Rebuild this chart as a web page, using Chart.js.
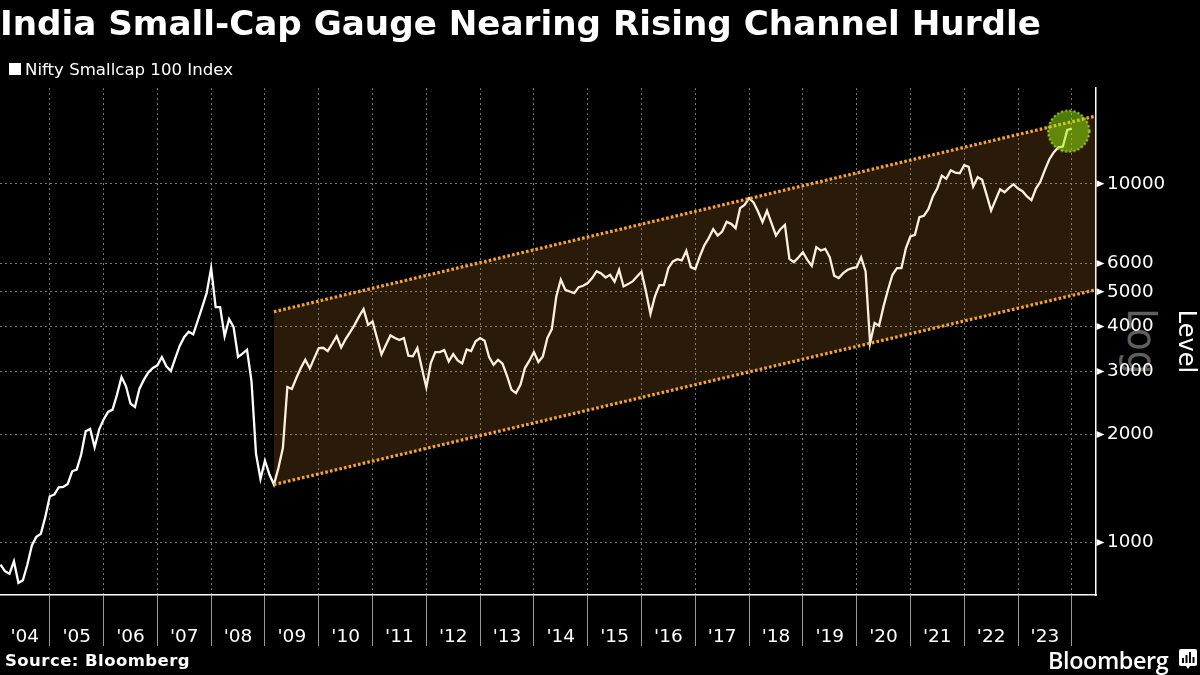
<!DOCTYPE html>
<html>
<head>
<meta charset="utf-8">
<script src="https://cdn.jsdelivr.net/npm/chart.js@4/dist/chart.umd.min.js"></script>
<style>
html,body{margin:0;padding:0;background:#000;width:1200px;height:675px;overflow:hidden}
#wrap{position:relative;width:1200px;height:675px}
canvas{position:absolute;left:0;top:0}
.t{position:absolute;color:#fff;white-space:nowrap}
#src{left:5px;top:651px;font:bold 16.5px "DejaVu Sans";letter-spacing:.45px}
#brand{left:1048px;top:644px;font:600 23.4px "Open Sans";letter-spacing:-.4px}
#legendText{left:25px;top:60px;font:16.6px "DejaVu Sans"}
#legendBox{position:absolute;left:9px;top:63px;width:12px;height:12px;background:#fff}
#logText{left:1162px;top:308px;font:40px/40px "DejaVu Sans";color:#5f5f5f;transform:rotate(90deg) scaleX(.93);transform-origin:left top}
#icon{position:absolute;left:1179px;top:649px}
</style>
</head>
<body>
<div id="wrap">
<div class="t" id="logText">Log</div>
<canvas id="c" width="1200" height="675"></canvas>
<div id="legendBox"></div>
<div class="t" id="legendText">Nifty Smallcap 100 Index</div>
<div class="t" id="src">Source: Bloomberg</div>
<div class="t" id="brand">Bloomberg</div>
<svg id="icon" width="18" height="21" viewBox="0 0 18 21"><path d="M2 0H16Q18 0 18 2V15Q18 17 16 17H11L9 20L7 17H2Q0 17 0 15V2Q0 0 2 0Z" fill="#fff"/><rect x="3" y="9" width="2" height="5" fill="#000"/><rect x="6.5" y="6" width="2" height="8" fill="#000"/><rect x="10" y="3" width="2" height="11" fill="#000"/><rect x="13.5" y="8" width="2" height="6" fill="#000"/></svg>
</div>
<script>
// Nifty Smallcap 100 month values, first point is Feb 2004
const v2004 = [868,832,818,887,772,785,868,981,1037,1057,1179];
const v2005 = [1346,1360,1426,1429,1457,1580,1597,1759,2043,2073,1843,2064];
const v2006 = [2201,2312,2347,2584,2894,2726,2439,2387,2685,2845,2982,3066];
const v2007 = [3119,3290,3099,3008,3268,3538,3741,3870,3805,4153,4535,4961];
const v2008 = [5823,4535,4535,3757,4198,3989,3290,3361,3448,2814,1770,1505];
const v2009 = [1692,1547,1451,1614,1835,2714,2679,2875,3065,3233,3058,3267];
const v2010 = [3484,3491,3418,3582,3764,3499,3692,3860,4046,4270,4476,4046];
const v2011 = [4134,3716,3346,3560,3780,3716,3668,3716,3318,3304,3484,3065];
const v2012 = [2707,3165,3396,3396,3440,3199,3353,3219,3158,3455,3418,3638];
const v2013 = [3716,3654,3289,3131,3233,3151,2917,2667,2610,2754,3065,3213];
const v2014 = [3396,3185,3304,3716,3936,4855,5403,5067,5012,4960,5153,5197];
const v2015 = [5288,5460,5710,5626,5483,5578,5333,5760,5176,5254,5345,5519];
const v2016 = [5686,5012,4343,4855,5220,5220,5821,6076,6168,6115,6506,5859];
const v2017 = [5785,6273,6734,7058,7477,7178,7366,7837,7737,7525,8554,8739];
const v2018 = [9120,8872,8375,7821,8410,7770,7178,7477,7689,6180,6051,6234];
const v2019 = [6450,6141,5908,6661,6521,6590,6247,5543,5460,5638,5760,5823];
const v2020 = [5859,6247,5699,3598,4092,4023,4554,5067,5578,5823,5823,6620];
const v2021 = [7134,7210,8076,8145,8500,9220,9725,10550,10325,10915,10752,10708];
const v2022 = [11272,11151,9829,10435,10259,9318,8429,9023,9663,9480,9745,9977];
const v2023 = [9705,9539,9220,9005,9705,10151,10940,11715,12252,12650,12706,14140];
const v2024 = [14260];
const indexValues = [].concat(v2004,v2005,v2006,v2007,v2008,v2009,v2010,v2011,v2012,v2013,v2014,v2015,v2016,v2017,v2018,v2019,v2020,v2021,v2022,v2023,v2024);

// channel end points: [months since Feb 2004, level]
const channelUpper = [[61,4400],[244.4,15465]];
const channelLower = [[61,1451],[244.4,5067]];
const highlight = [[238.3,14022]];

// year tick positions in months since Feb 2004 (each January)
const yearLabels = ["'04","'05","'06","'07","'08","'09","'10","'11","'12","'13","'14","'15","'16","'17","'18","'19","'20","'21","'22","'23"];
const yearStarts = [11,23,35,47,59,71,83,95,107,119,131,143,155,167,179,191,203,215,227,239];
const yearMids = [5.4,17,29,41,53,65,77,89,101,113,125,137,149,161,173,185,197,209,221,233];
const levelTicks = [1000,2000,3000,4000,5000,6000,10000];

const points = indexValues.map((y,i)=>({x:i,y}));
const toXY = a => a.map(p=>({x:p[0],y:p[1]}));

const ring = document.createElement('canvas');
ring.width = 44; ring.height = 44;
(function(){
  const g = ring.getContext('2d');
  g.beginPath(); g.arc(22,22,20.5,0,Math.PI*2);
  g.fillStyle = 'rgba(156,244,10,0.5)'; g.fill();
  g.setLineDash([2,2.2]); g.lineWidth = 2; g.strokeStyle = '#a5dc3c'; g.stroke();
})();

const yTriangles = {
  id:'yTriangles',
  afterDraw(chart){
    const s = chart.scales.y, g = chart.ctx;
    g.save(); g.fillStyle='#fff';
    s.ticks.forEach((t,i)=>{
      const p = s.getPixelForTick(i), l = s.left+0.5;
      g.beginPath(); g.moveTo(l,p-3.5); g.lineTo(l+8,p); g.lineTo(l,p+3.5); g.closePath(); g.fill();
    });
    g.restore();
  }
};

new Chart(document.getElementById('c'),{
  type:'line',
  plugins:[yTriangles],
  data:{datasets:[
    {label:'Nifty Smallcap 100 Index',data:points,borderColor:'#fff',backgroundColor:'#fff',borderWidth:2.3,pointRadius:0,tension:0,order:4,fill:false},
    {label:'Channel top',data:toXY(channelUpper),borderColor:'#f5a52f',borderWidth:3.2,borderDash:[2.6,2.2],pointRadius:0,backgroundColor:'rgba(255,158,60,0.165)',fill:'+1',order:2},
    {label:'Channel bottom',data:toXY(channelLower),borderColor:'#f5a52f',borderWidth:3.2,borderDash:[2.6,2.2],pointRadius:0,fill:false,order:2},
    {label:'Highlight',data:toXY(highlight),showLine:false,pointStyle:ring,pointRadius:20,order:1,fill:false}
  ]},
  options:{
    responsive:false,animation:false,
    layout:{autoPadding:false,padding:{left:0,right:0,top:0,bottom:0}},
    plugins:{
      title:{display:true,text:'India Small-Cap Gauge Nearing Rising Channel Hurdle',align:'start',color:'#fff',
        font:{family:'DejaVu Sans',size:34.2,weight:'bold'},padding:{top:5.5,bottom:41.5}},
      legend:{display:false},
      tooltip:{enabled:false}
    },
    scales:{
      x:{type:'linear',min:-0.11,max:244.4,position:'bottom',
        afterBuildTicks(s){s.ticks=yearStarts.map(v=>({value:v})).concat(yearMids.map(v=>({value:v})));},
        afterFit(s){s.height=80;},
        border:{display:true,color:'#fff',width:1.5,dash:[2,3]},
        grid:{drawTicks:true,tickLength:51,
          color:c=>yearStarts.includes(c.tick&&c.tick.value)?'#757575':'transparent',
          lineWidth:1,
          tickColor:c=>yearStarts.includes(c.tick&&c.tick.value)?'#9a9a9a':'transparent',tickWidth:1,
          tickBorderDash:[]},
        ticks:{autoSkip:false,maxRotation:0,minRotation:0,color:'#fff',padding:-20,
          font:{family:'DejaVu Sans',size:18.5},
          callback(v){const k=yearMids.indexOf(v);return k>=0?yearLabels[k]:'';}}
      },
      y:{type:'logarithmic',position:'right',min:714,max:18500,
        afterBuildTicks(s){s.ticks=levelTicks.map(v=>({value:v}));},
        afterFit(s){s.width=104;},
        border:{display:true,color:'#fff',width:1.5,dash:[2,3]},
        title:{display:true,text:'Level',color:'#fff',font:{family:'DejaVu Sans',size:24},padding:{top:0,bottom:2}},
        grid:{color:'#757575',lineWidth:1,tickLength:8,tickColor:'transparent',tickBorderDash:[]},
        ticks:{color:'#fff',padding:3,autoSkip:false,font:{family:'DejaVu Sans',size:18.3},callback:v=>String(v)}
      }
    }
  }
});
</script>
</body>
</html>
